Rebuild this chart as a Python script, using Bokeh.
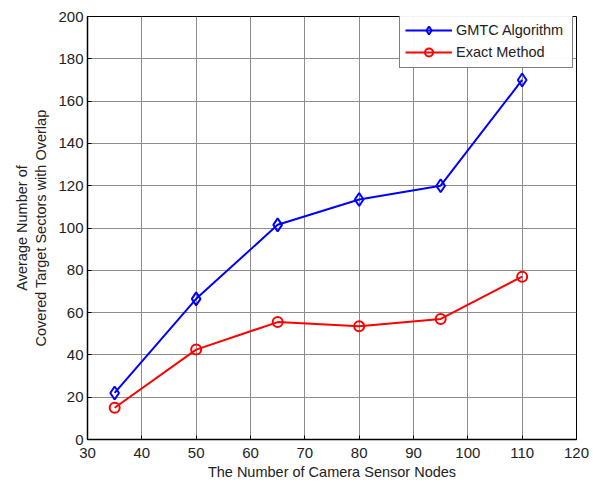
from bokeh.plotting import figure
from bokeh.embed import file_html
from bokeh.resources import INLINE
from bokeh.models import Legend, LegendItem, FixedTicker, Range1d

nodes = [35, 50, 65, 80, 95, 110]
gmtc = [22, 66.5, 101.5, 113.5, 120, 170]
exact = [15, 42.5, 55.5, 53.5, 57, 77]
x_ticks = [30, 40, 50, 60, 70, 80, 90, 100, 110, 120]
y_ticks = [0, 20, 40, 60, 80, 100, 120, 140, 160, 180, 200]

FONT = "Liberation Sans"

p = figure(width=590, height=482, output_backend="svg", toolbar_location=None,
           x_range=Range1d(30, 120), y_range=Range1d(0, 200),
           min_border_left=87, min_border_right=14, min_border_top=16, min_border_bottom=43)

p.xaxis.ticker = FixedTicker(ticks=x_ticks)
p.yaxis.ticker = FixedTicker(ticks=y_ticks)
for ax in (p.xaxis, p.yaxis):
    ax.major_tick_in = 4
    ax.major_tick_out = 0
    ax.minor_tick_in = 0
    ax.minor_tick_out = 0
    ax.axis_line_color = "black"
    ax.axis_line_width = 1.5
    ax.major_tick_line_color = "black"
    ax.major_label_text_font = FONT
    ax.major_label_text_font_size = "15px"
    ax.major_label_text_color = "#222222"
    ax.axis_label_text_font = FONT
    ax.axis_label_text_font_size = "14.5px"
    ax.axis_label_text_font_style = "normal"
    ax.axis_label_text_color = "#222222"

p.xaxis.axis_label = "The Number of Camera Sensor Nodes"
p.yaxis.axis_label = "Average Number of\nCovered Target Sectors with Overlap"
p.xaxis.major_label_standoff = 8
p.yaxis.major_label_standoff = 4
p.xaxis.axis_label_standoff = 3
p.yaxis.axis_label_standoff = 6

p.xgrid.grid_line_color = "#8c8c8c"
p.ygrid.grid_line_color = "#8c8c8c"
p.xgrid.grid_line_width = 1
p.ygrid.grid_line_width = 1
p.outline_line_color = "black"
p.outline_line_width = 1
p.background_fill_color = "white"

l1 = p.line(nodes, gmtc, line_color="blue", line_width=2)
m1 = p.scatter(nodes, gmtc, marker="diamond", size=13, line_color="blue",
               line_width=2, fill_color=None)
l2 = p.line(nodes, exact, line_color="red", line_width=2)
m2 = p.scatter(nodes, exact, marker="circle", size=10, line_color="red",
               line_width=2, fill_color=None)

legend = Legend(items=[LegendItem(label="GMTC Algorithm", renderers=[l1, m1]),
                       LegendItem(label="Exact Method", renderers=[l2, m2])],
                location=(312, 371))
legend.border_line_color = "black"
legend.border_line_width = 1
legend.label_text_font = FONT
legend.label_text_font_size = "14.5px"
legend.label_text_color = "#222222"
legend.glyph_width = 47
legend.glyph_height = 20
legend.label_height = 20
legend.label_width = 111
legend.spacing = 2
legend.padding = 5
legend.margin = 0
legend.label_standoff = 4
p.add_layout(legend)

open("out.html", "w").write(file_html(p, INLINE))
